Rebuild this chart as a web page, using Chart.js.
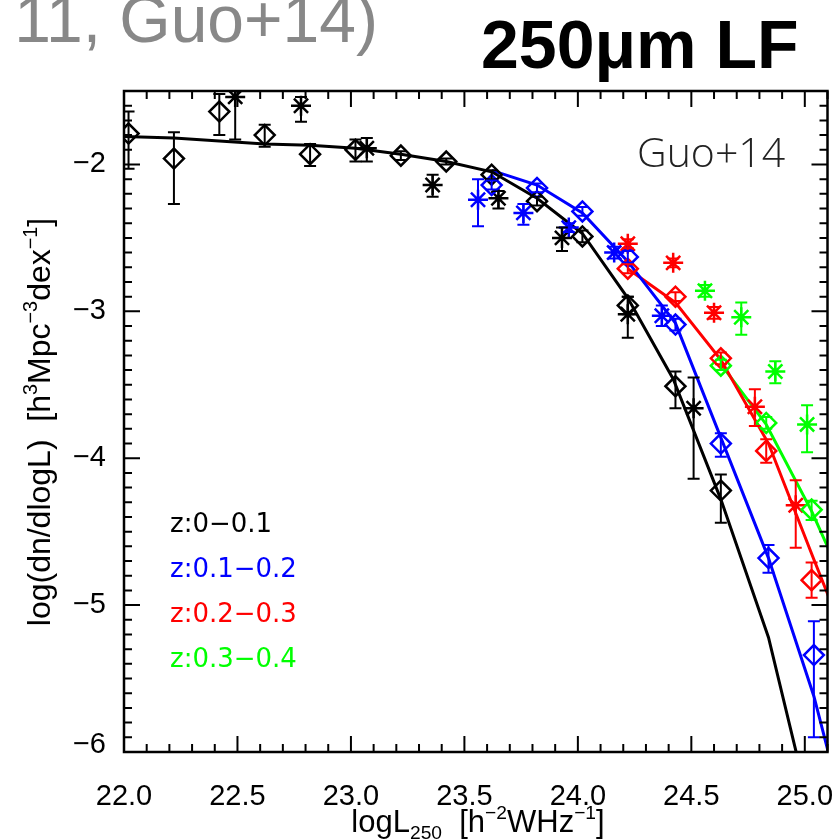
<!DOCTYPE html>
<html lang="en">
<head>
<meta charset="UTF-8">
<title>250um LF</title>
<script src="https://cdn.jsdelivr.net/npm/chart.js"></script>
<style>
  body { margin: 0; background: #fff; }
  canvas { display: block; }
</style>
</head>
<body>
<canvas id="lf" width="840" height="840"></canvas>
<script>
// axis ticks
const xTickVals = [22.0, 22.5, 23.0, 23.5, 24.0, 24.5, 25.0];
const xTickLabels = ['22.0', '22.5', '23.0', '23.5', '24.0', '24.5', '25.0'];
const yTickVals = [-2, -3, -4, -5, -6];
const yTickLabels = ['\u22122', '\u22123', '\u22124', '\u22125', '\u22126'];

// z:0-0.1 (black)
const diaX0 = [22.02, 22.22, 22.42, 22.62, 22.82, 23.02, 23.22, 23.42, 23.62, 23.82, 24.02, 24.22, 24.43, 24.63];
const diaY0 = [-1.79, -1.96, -1.64, -1.80, -1.93, -1.90, -1.94, -1.98, -2.07, -2.25, -2.49, -2.96, -3.51, -4.22];
const diaLo0 = [-2.03, -2.27, -1.80, -1.88, -2.01, -1.98, -1.97, -2.00, -2.10, -2.28, -2.53, -3.02, -3.66, -4.44];
const diaHi0 = [-1.64, -1.78, -1.52, -1.73, -1.86, -1.83, -1.91, -1.96, -2.04, -2.22, -2.45, -2.90, -3.41, -4.11];
const starX0 = [22.49, 22.78, 23.07, 23.36, 23.65, 23.93, 24.22, 24.51];
const starY0 = [-1.54, -1.60, -1.89, -2.14, -2.23, -2.50, -3.02, -3.66];
const starLo0 = [-1.83, -1.71, -1.98, -2.22, -2.30, -2.59, -3.18, -4.14];
const starHi0 = [-1.30, -1.54, -1.82, -2.07, -2.18, -2.43, -2.90, -3.45];
const fitX0 = [22.0, 22.22, 22.42, 22.62, 22.82, 23.02, 23.22, 23.42, 23.62, 23.82, 24.02, 24.22, 24.42, 24.63, 24.84, 25.04];
const fitY0 = [-1.81, -1.82, -1.84, -1.86, -1.87, -1.89, -1.93, -1.98, -2.05, -2.23, -2.47, -2.91, -3.46, -4.28, -5.22, -6.5];

// z:0.1-0.2 (blue)
const diaX1 = [23.62, 23.82, 24.02, 24.22, 24.43, 24.63, 24.84, 25.04];
const diaY1 = [-2.14, -2.16, -2.32, -2.63, -3.09, -3.90, -4.68, -5.34];
const diaLo1 = [-2.17, -2.19, -2.35, -2.67, -3.13, -3.99, -4.78, -5.90];
const diaHi1 = [-2.11, -2.13, -2.29, -2.59, -3.05, -3.83, -4.59, -5.11];
const starX1 = [23.56, 23.76, 23.96, 24.16, 24.37];
const starY1 = [-2.24, -2.33, -2.43, -2.60, -3.03];
const starLo1 = [-2.42, -2.41, -2.46, -2.64, -3.10];
const starHi1 = [-2.10, -2.27, -2.40, -2.56, -2.96];
const fitX1 = [23.62, 23.82, 24.02, 24.22, 24.43, 24.63, 24.84, 25.04, 25.12];
const fitY1 = [-2.04, -2.14, -2.33, -2.66, -3.08, -3.86, -4.68, -5.62, -6.1];

// z:0.2-0.3 (red)
const diaX2 = [24.22, 24.43, 24.63, 24.83, 25.03];
const diaY2 = [-2.71, -2.90, -3.32, -3.95, -4.83];
const diaLo2 = [-2.74, -2.93, -3.36, -4.03, -4.95];
const diaHi2 = [-2.68, -2.87, -3.28, -3.87, -4.71];
const starX2 = [24.22, 24.42, 24.60, 24.78, 24.96];
const starY2 = [-2.54, -2.67, -3.01, -3.65, -4.32];
const starLo2 = [-2.57, -2.70, -3.05, -3.78, -4.61];
const starHi2 = [-2.51, -2.64, -2.97, -3.53, -4.15];
const fitX2 = [24.22, 24.43, 24.63, 24.84, 25.04, 25.12];
const fitY2 = [-2.71, -2.94, -3.33, -3.90, -4.69, -5.0];

// z:0.3-0.4 (green)
const diaX3 = [24.63, 24.83, 25.03];
const diaY3 = [-3.37, -3.76, -4.35];
const diaLo3 = [-3.40, -3.80, -4.42];
const diaHi3 = [-3.33, -3.72, -4.29];
const starX3 = [24.56, 24.72, 24.87, 25.01];
const starY3 = [-2.86, -3.04, -3.41, -3.77];
const starLo3 = [-2.90, -3.16, -3.49, -3.96];
const starHi3 = [-2.82, -2.94, -3.34, -3.64];
const fitX3 = [24.63, 24.83, 25.03, 25.12];
const fitY3 = [-3.36, -3.77, -4.36, -4.67];

const binLabels = ['z:0\u22120.1', 'z:0.1\u22120.2', 'z:0.2\u22120.3', 'z:0.3\u22120.4'];
const binColors = ['#000000', '#0000ff', '#ff0000', '#00ff00'];

function pts(xs, ys, lo, hi) {
    return xs.map((x, i) => ({ x: x, y: ys[i], lo: lo ? lo[i] : null, hi: hi ? hi[i] : null }));
}

function fitSet(xs, ys, c) {
    return { data: pts(xs, ys), showLine: true, borderColor: c, borderWidth: 3, pointRadius: 0, order: 3 };
}
function diaSet(xs, ys, lo, hi, c) {
    return { data: pts(xs, ys, lo, hi), errBars: true, pointStyle: 'rectRot', pointRadius: 10,
             borderColor: c, backgroundColor: 'rgba(0,0,0,0)', pointBorderWidth: 2.5, order: 1 };
}
function starSet(xs, ys, lo, hi, c) {
    return { data: pts(xs, ys, lo, hi), errBars: true, pointStyle: 'star', pointRadius: 10,
             borderColor: c, backgroundColor: c, pointBorderWidth: 2.5, order: 2 };
}

const datasets = [
    fitSet(fitX0, fitY0, binColors[0]), fitSet(fitX1, fitY1, binColors[1]),
    fitSet(fitX2, fitY2, binColors[2]), fitSet(fitX3, fitY3, binColors[3]),
    diaSet(diaX0, diaY0, diaLo0, diaHi0, binColors[0]), starSet(starX0, starY0, starLo0, starHi0, binColors[0]),
    diaSet(diaX1, diaY1, diaLo1, diaHi1, binColors[1]), starSet(starX1, starY1, starLo1, starHi1, binColors[1]),
    diaSet(diaX2, diaY2, diaLo2, diaHi2, binColors[2]), starSet(starX2, starY2, starLo2, starHi2, binColors[2]),
    diaSet(diaX3, diaY3, diaLo3, diaHi3, binColors[3]), starSet(starX3, starY3, starLo3, starHi3, binColors[3])
];

// error bars with caps
const errorBars = {
    id: 'errorBars',
    afterDatasetsDraw(chart) {
        const { ctx, chartArea: a, scales: { x, y } } = chart;
        ctx.save();
        ctx.beginPath();
        ctx.rect(a.left, a.top, a.right - a.left, a.bottom - a.top);
        ctx.clip();
        chart.data.datasets.forEach(ds => {
            if (!ds.errBars) return;
            ctx.strokeStyle = ds.borderColor;
            ctx.lineWidth = 2;
            ds.data.forEach(p => {
                const px = x.getPixelForValue(p.x);
                const y1 = y.getPixelForValue(p.lo), y2 = y.getPixelForValue(p.hi);
                ctx.beginPath();
                ctx.moveTo(px, y1); ctx.lineTo(px, y2);
                ctx.moveTo(px - 6, y1); ctx.lineTo(px + 6, y1);
                ctx.moveTo(px - 6, y2); ctx.lineTo(px + 6, y2);
                ctx.stroke();
            });
        });
        ctx.restore();
    }
};

// draws text runs with super/subscripts, centred on x
function richText(ctx, parts, cx, cy, size, family) {
    let w = 0;
    parts.forEach(p => {
        ctx.font = (p[1] ? size * 0.62 : size) + 'px ' + family;
        w += ctx.measureText(p[0]).width;
    });
    let px = cx - w / 2;
    ctx.textAlign = 'left';
    ctx.textBaseline = 'alphabetic';
    parts.forEach(p => {
        ctx.font = (p[1] ? size * 0.62 : size) + 'px ' + family;
        const dy = p[1] === 1 ? -size * 0.42 : p[1] === -1 ? size * 0.22 : 0;
        ctx.fillText(p[0], px, cy + dy);
        px += ctx.measureText(p[0]).width;
    });
}

const frame = {
    id: 'frame',
    afterDraw(chart) {
        const { ctx, chartArea: a, scales: { x, y } } = chart;
        const font = '"Liberation Sans", Arial, sans-serif';
        ctx.save();
        ctx.strokeStyle = '#000';
        ctx.lineWidth = 2.5;
        ctx.strokeRect(a.left, a.top, a.right - a.left, a.bottom - a.top);

        ctx.lineWidth = 2;
        ctx.beginPath();
        for (let v = 22.0; v <= 25.1 + 1e-6; v += 0.1) {
            const px = x.getPixelForValue(v);
            const major = xTickVals.some(t => Math.abs(t - v) < 1e-6);
            const len = major ? 16 : 8;
            ctx.moveTo(px, a.bottom); ctx.lineTo(px, a.bottom - len);
            ctx.moveTo(px, a.top); ctx.lineTo(px, a.top + len);
        }
        for (let v = -6.0; v <= -1.5 + 1e-6; v += 0.1) {
            const py = y.getPixelForValue(v);
            const major = yTickVals.some(t => Math.abs(t - v) < 1e-6);
            const len = major ? 16 : 8;
            ctx.moveTo(a.left, py); ctx.lineTo(a.left + len, py);
            ctx.moveTo(a.right, py); ctx.lineTo(a.right - len, py);
        }
        ctx.stroke();

        ctx.fillStyle = '#000';
        ctx.font = '29px ' + font;
        ctx.textAlign = 'center';
        ctx.textBaseline = 'middle';
        xTickVals.forEach((v, i) => ctx.fillText(xTickLabels[i], x.getPixelForValue(v), 797));
        ctx.textAlign = 'right';
        yTickVals.forEach((v, i) => ctx.fillText(yTickLabels[i], 106, Math.min(y.getPixelForValue(v), 745)));

        // axis titles
        richText(ctx, [['logL', 0], ['250', -1], ['  [h', 0], ['\u22122', 1], ['WHz', 0], ['\u22121', 1], [']', 0]],
            478, 832, 31, font);
        ctx.save();
        ctx.translate(50, 422);
        ctx.rotate(-Math.PI / 2);
        richText(ctx, [['log(dn/dlogL)  [h', 0], ['3', 1], ['Mpc', 0], ['\u22123', 1], ['dex', 0], ['\u22121', 1], [']', 0]],
            0, 0, 32, font);
        ctx.restore();

        // legend text
        ctx.font = '26px "DejaVu Sans", sans-serif';
        ctx.textAlign = 'left';
        ctx.textBaseline = 'middle';
        binLabels.forEach((t, i) => {
            ctx.fillStyle = binColors[i];
            ctx.fillText(t, 170, 525 + i * 45);
        });

        ctx.fillStyle = '#222';
        ctx.font = '300 41px "Open Sans", "Liberation Sans", sans-serif';
        ctx.textBaseline = 'alphabetic';
        ctx.fillText('Guo+14', 637, 167);

        // heading
        ctx.fillStyle = '#000';
        ctx.font = 'bold 68px "Liberation Sans", Arial, sans-serif';
        ctx.fillText('250\u03bcm LF', 481, 68);
        ctx.fillStyle = '#888888';
        ctx.font = '66px "Liberation Sans", Arial, sans-serif';
        ctx.textAlign = 'right';
        ctx.fillText('11, Guo+14)', 378, 42);
        ctx.restore();
    }
};

new Chart(document.getElementById('lf'), {
    type: 'scatter',
    data: { datasets: datasets },
    options: {
        responsive: false,
        animation: false,
        layout: { padding: { left: 124, right: 8, top: 91, bottom: 88 } },
        scales: {
            x: { type: 'linear', min: 22.0, max: 25.1, display: false },
            y: { type: 'linear', min: -6.0, max: -1.5, display: false }
        },
        plugins: { legend: { display: false }, tooltip: { enabled: false } }
    },
    plugins: [errorBars, frame]
});
</script>
</body>
</html>
